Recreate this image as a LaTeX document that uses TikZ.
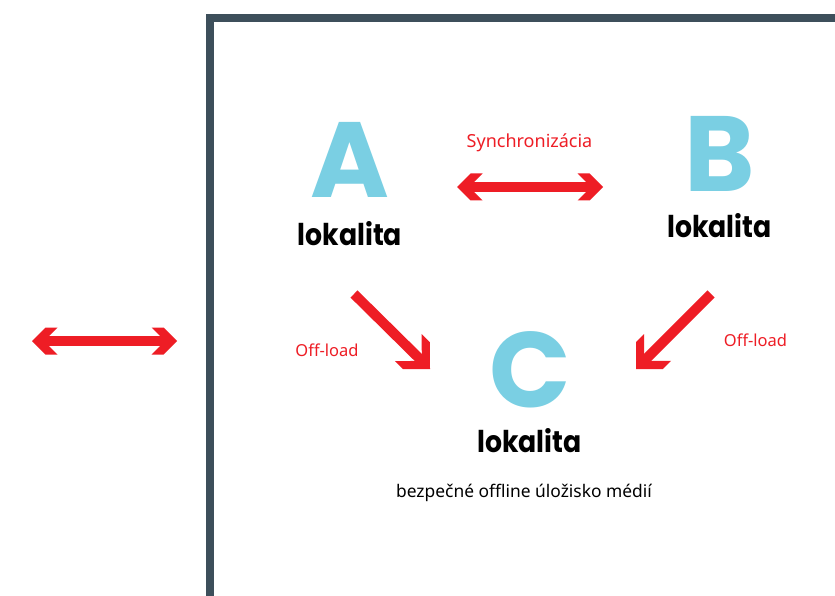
\documentclass[tikz,border=0pt]{standalone}
\usepackage{fontspec}
\setmainfont{Noto Sans}
\newfontfamily\pop{Poppins}
\newfontfamily\popn{Poppins}[FakeStretch=0.89]
\usetikzlibrary{arrows.meta}
\definecolor{framec}{HTML}{3D4F5B}
\definecolor{cyanl}{HTML}{7ACFE3}
\definecolor{redc}{HTML}{EE1D25}

\pgfdeclarearrow{
  name = Chev,
  setup code = {
    \pgfarrowssettipend{0pt}
    \pgfarrowssetlineend{-14pt}
    \pgfarrowssetbackend{-25.5pt}
    \pgfarrowssetvisualbackend{-17pt}
    \pgfarrowshullpoint{0pt}{0pt}
    \pgfarrowshullpoint{-25.5pt}{13.5pt}
    \pgfarrowshullpoint{-25.5pt}{-13.5pt}
  },
  drawing code = {
    \pgfpathmoveto{\pgfqpoint{0pt}{0pt}}
    \pgfpathlineto{\pgfqpoint{-13.5pt}{13.5pt}}
    \pgfpathlineto{\pgfqpoint{-25.5pt}{13.5pt}}
    \pgfpathlineto{\pgfqpoint{-17pt}{5pt}}
    \pgfpathlineto{\pgfqpoint{-17pt}{-5pt}}
    \pgfpathlineto{\pgfqpoint{-25.5pt}{-13.5pt}}
    \pgfpathlineto{\pgfqpoint{-13.5pt}{-13.5pt}}
    \pgfpathclose
    \pgfusepathqfill
  }
}
\pgfdeclarearrow{
  name = ChevD,
  setup code = {
    \pgfarrowssettipend{0pt}
    \pgfarrowssetlineend{-14pt}
    \pgfarrowssetbackend{-30.5pt}
    \pgfarrowssetvisualbackend{-16.5pt}
    \pgfarrowshullpoint{0pt}{0pt}
    \pgfarrowshullpoint{-30.5pt}{19pt}
    \pgfarrowshullpoint{-30.5pt}{-19pt}
  },
  drawing code = {
    \pgfpathmoveto{\pgfqpoint{0pt}{0pt}}
    \pgfpathlineto{\pgfqpoint{-19pt}{19pt}}
    \pgfpathlineto{\pgfqpoint{-30.5pt}{19pt}}
    \pgfpathlineto{\pgfqpoint{-16.5pt}{5pt}}
    \pgfpathlineto{\pgfqpoint{-16.5pt}{-5pt}}
    \pgfpathlineto{\pgfqpoint{-30.5pt}{-19pt}}
    \pgfpathlineto{\pgfqpoint{-19pt}{-19pt}}
    \pgfpathclose
    \pgfusepathqfill
  }
}

\begin{document}
\begin{tikzpicture}[x=1pt,y=-1pt,
  letter/.style={font=\pop\bfseries\fontsize{107}{107}\selectfont, text=cyanl, anchor=base, inner sep=0pt, text depth=0pt, text height=76pt},
  place/.style={font=\popn\bfseries\fontsize{30}{30}\selectfont, text=black, anchor=base, inner sep=0pt, text height=22pt, text depth=0pt},
  redlabel/.style={font=\fontsize{16.5}{16.5}\selectfont, text=redc, anchor=base, inner sep=0pt},
  note/.style={font=\fontsize{17.4}{17.4}\selectfont, text=black, anchor=base, inner sep=0pt},
  dbl/.style={draw=redc, line width=10pt, Chev-Chev},
  offload/.style={draw=redc, line width=10pt, -ChevD}]
\useasboundingbox (0,0) rectangle (835,596);
\fill[white] (0,0) rectangle (835,596);
% frame
\draw[framec, line width=8pt, miter limit=10] (210,596) -- (210,18) -- (835,18);
% letters
\node[letter] (A) at (350,198) {A};
\node[place] (LA) at (350,245) {lokalita};
\node[letter] (B) at (720,192) {B};
\node[place] (LB) at (719.5,237) {lokalita};
\node[letter] (C) at (530,407) {C};
\node[place] (LC) at (529.5,452) {lokalita};
\node[note] (N) at (524,497) {bezpečné offline úložisko médií};
% labels
\node[redlabel, font=\fontsize{18}{18}\selectfont] (sync) at (529.5,148) {Synchronizácia};
\node[redlabel] (off1) at (327,356) {Off-load};
\node[redlabel] (off2) at (755.5,346) {Off-load};
% connector ends
\coordinate (s1) at (457,187);
\coordinate (s2) at (603,187);
\coordinate (l1) at (32,341);
\coordinate (l2) at (177,341);
\coordinate (a1) at (354,294);
\coordinate (a2) at (430,369);
\coordinate (b1) at (711,294);
\coordinate (b2) at (636,369);
% arrows
\draw[dbl] (s1) -- (s2);
\draw[dbl] (l1) -- (l2);
\draw[offload] (a1) -- (a2);
\draw[offload] (b1) -- (b2);
\end{tikzpicture}
\end{document}
